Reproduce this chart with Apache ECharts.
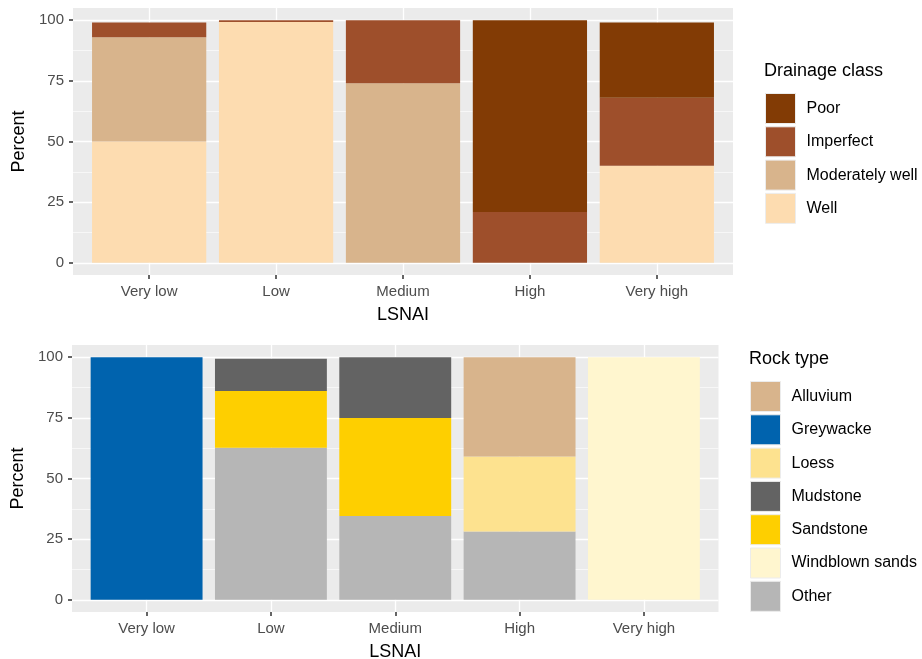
<!DOCTYPE html>
<html><head><meta charset="utf-8">
<script src="https://cdn.jsdelivr.net/npm/echarts@6/dist/echarts.min.js"></script>
<style>html,body{margin:0;padding:0;background:#fff}#c{width:922px;height:659px}</style>
</head><body><div id="c"></div>
<script>
// ---- data ----
const categories = ['Very low', 'Low', 'Medium', 'High', 'Very high'];
const yTicks = [0, 25, 50, 75, 100];
const yMinor = [12.5, 37.5, 62.5, 87.5];

// Drainage class (stack bottom -> top)
const drainageClasses = ['Well', 'Moderately well', 'Imperfect', 'Poor'];
const drainWell      = [50, 99.2, 0, 0, 40];
const drainModWell   = [43, 0, 74, 0, 0];
const drainImperfect = [6, 0.8, 26, 21, 28];
const drainPoor      = [0, 0, 0, 79, 31];
const drainLegendOrder = ['Poor', 'Imperfect', 'Moderately well', 'Well'];

// Rock type (stack bottom -> top)
const rockTypes = ['Other', 'Windblown sands', 'Sandstone', 'Mudstone', 'Loess', 'Greywacke', 'Alluvium'];
const rockOther     = [0, 62.7, 34.6, 28.2, 0];
const rockWindblown = [0, 0, 0, 0, 100];
const rockSandstone = [0, 23.4, 40.3, 0, 0];
const rockMudstone  = [0, 13.2, 25.1, 0, 0];
const rockLoess     = [0, 0, 0, 30.9, 0];
const rockGreywacke = [100, 0, 0, 0, 0];
const rockAlluvium  = [0, 0, 0, 40.9, 0];
const rockLegendOrder = ['Alluvium', 'Greywacke', 'Loess', 'Mudstone', 'Sandstone', 'Windblown sands', 'Other'];

const drainColors = {'Poor':'#823b05','Imperfect':'#9e4f2b','Moderately well':'#d8b48c','Well':'#fddcb0'};
const rockColors = {'Alluvium':'#d8b48c','Greywacke':'#0063ae','Loess':'#fde28f','Mudstone':'#636363','Sandstone':'#fecf00','Windblown sands':'#fff6cf','Other':'#b6b6b6'};

const drainValues = {'Well':drainWell,'Moderately well':drainModWell,'Imperfect':drainImperfect,'Poor':drainPoor};
const rockValues = {'Other':rockOther,'Windblown sands':rockWindblown,'Sandstone':rockSandstone,'Mudstone':rockMudstone,'Loess':rockLoess,'Greywacke':rockGreywacke,'Alluvium':rockAlluvium};

const FONT = 'Liberation Sans, Arial, sans-serif';
const catPos = categories.map((c, i) => i + 1);

// panel geometry (ggplot-like: discrete axis expanded by 0.6 each side)
const panels = [
  {left: 73, width: 660, top: 8, height: 267},
  {left: 72, width: 646.5, top: 345, height: 267}
];
const EXP = 0.6;
const NCAT = categories.length;
const spanUnits = NCAT - 1 + 2 * EXP;

const grids = [], xAxes = [], yAxes = [];
panels.forEach((p, k) => {
  grids.push({left: p.left, width: p.width, top: p.top, height: p.height, show: true,
    backgroundColor: '#ebebeb', borderWidth: 0, outerBoundsMode: 'none', containLabel: false});
  const band = p.width / spanUnits;
  const inset = (EXP - 0.5) * band;
  grids.push({left: p.left + inset, width: p.width - 2 * inset, top: p.top, height: p.height,
    show: false, outerBoundsMode: 'none', containLabel: false});
  const gBg = 2 * k, gBar = 2 * k + 1;
  xAxes.push({
    type: 'value', gridIndex: gBg, min: 1 - EXP, max: NCAT + EXP, position: 'bottom',
    name: 'LSNAI', nameLocation: 'middle', nameGap: 31,
    nameTextStyle: {fontFamily: FONT, fontSize: 18, color: '#000'},
    axisLine: {show: false, onZero: false},
    axisTick: {show: true, length: 4, customValues: catPos, lineStyle: {color: '#333', width: 1.5}},
    axisLabel: {customValues: catPos, margin: 9, fontFamily: FONT, fontSize: 15, color: '#4d4d4d',
      formatter: v => categories[Math.round(v) - 1]},
    splitLine: {show: true, lineStyle: {color: '#fff', width: 1.3}}
  });
  xAxes.push({
    type: 'category', gridIndex: gBar, data: categories, show: false
  });
  yAxes.push({
    type: 'value', gridIndex: gBg, min: -5, max: 105, position: 'left',
    name: 'Percent', nameLocation: 'middle', nameGap: 40,
    nameTextStyle: {fontFamily: FONT, fontSize: 18, color: '#000'},
    axisLine: {show: false, onZero: false},
    axisTick: {show: true, length: 4, customValues: yTicks, lineStyle: {color: '#333', width: 1.5}},
    axisLabel: {customValues: yTicks, margin: 9, fontFamily: FONT, fontSize: 15, color: '#4d4d4d'},
    splitLine: {show: true, lineStyle: {color: '#fff', width: 1.3}}
  });
  yAxes.push({
    type: 'value', gridIndex: gBg, min: -5, max: 105, position: 'left',
    axisLine: {show: false, onZero: false},
    axisTick: {show: false, customValues: yMinor},
    axisLabel: {show: false, customValues: yMinor},
    splitLine: {show: true, lineStyle: {color: '#fff', width: 0.6}}
  });
  yAxes.push({
    type: 'value', gridIndex: gBar, min: -5, max: 105, show: false, splitLine: {show: false}
  });
});

const series = [];
drainageClasses.forEach(name => {
  series.push({
    name, type: 'bar', stack: 'drain', xAxisIndex: 1, yAxisIndex: 2,
    barCategoryGap: '10%', itemStyle: {color: drainColors[name]},
    data: drainValues[name]
  });
});
rockTypes.forEach(name => {
  series.push({
    name, type: 'bar', stack: 'rock', xAxisIndex: 3, yAxisIndex: 5,
    barCategoryGap: '10%', itemStyle: {color: rockColors[name]},
    data: rockValues[name]
  });
});

const legendCommon = {
  orient: 'vertical', icon: 'rect', itemWidth: 30, itemHeight: 30, itemGap: 2.3,
  selectedMode: false, padding: 0,
  itemStyle: {borderColor: '#ececec', borderWidth: 1},
  textStyle: {fontFamily: FONT, fontSize: 16, color: '#000', padding: [0, 0, 0, 6]}
};

const chart = echarts.init(document.getElementById('c'), null, {renderer: 'canvas'});
chart.setOption({
  animation: false,
  backgroundColor: '#fff',
  title: [
    {text: 'Drainage class', left: 764, top: 62, padding: 0, textStyle: {fontFamily: FONT, fontSize: 18, fontWeight: 'normal', color: '#000'}},
    {text: 'Rock type', left: 749, top: 350, padding: 0, textStyle: {fontFamily: FONT, fontSize: 18, fontWeight: 'normal', color: '#000'}}
  ],
  legend: [
    Object.assign({}, legendCommon, {left: 765, top: 93, data: drainLegendOrder}),
    Object.assign({}, legendCommon, {left: 750, top: 381, data: rockLegendOrder})
  ],
  grid: grids,
  xAxis: xAxes,
  yAxis: yAxes,
  series
});
</script></body></html>
